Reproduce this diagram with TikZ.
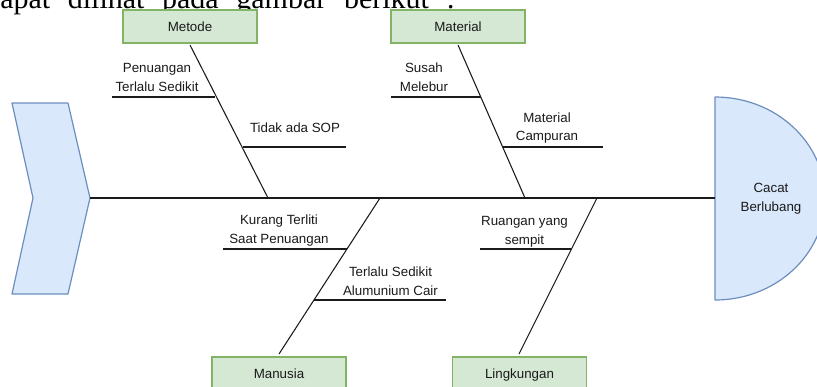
\documentclass[tikz,border=0pt]{standalone}
\usepackage{fontspec}
\setmainfont{Liberation Sans}
\newfontfamily\bodyserif{Liberation Serif}
\definecolor{catfill}{HTML}{D5E8D4}
\definecolor{catline}{HTML}{82B366}
\definecolor{headfill}{HTML}{DAE8FC}
\definecolor{headline}{HTML}{6C8EBF}
\definecolor{ink}{HTML}{1A1A1A}
\begin{document}
\begin{tikzpicture}[x=0.75pt,y=-0.75pt,
  cat/.style={draw=catline, fill=catfill, line width=0.9pt, minimum width=100.5pt,
    minimum height=24.75pt, inner sep=0pt, text=ink, text height=7.2pt, text depth=0pt,
    font=\fontsize{10}{14}\selectfont},
  lbl/.style={align=center, inner sep=0pt, text=ink, font=\fontsize{10}{14}\selectfont},
  bone/.style={line width=0.8pt, draw=ink},
  twig/.style={line width=0.8pt, draw=ink},
  headshape/.style={draw=headline, fill=headfill, line width=0.9pt, line join=round},
]
\clip (0,0) rectangle (817,386);
\useasboundingbox (0,0) rectangle (817,386);

% intro text (cut off at top, as in the reference)
\node[anchor=base west, inner sep=0pt, font=\bodyserif\fontsize{22.5}{27}\selectfont] (intro) at (0,8)
  {\makebox[341pt][s]{apat dilihat pada gambar berikut :}};

% tail chevron
\draw[headshape] (12,103) -- (68,103) -- (90,198) -- (68,294) -- (12,294) -- (33,198) -- cycle;
\coordinate (tail) at (90,198);

% head
\draw[headshape] (715,300) -- (715,97)
  .. controls (775.75,97) and (825,142.44) .. (825,198.5)
  .. controls (825,254.56) and (775.75,300) .. (715,300) -- cycle;
\coordinate (headleft) at (715,198);
\node[lbl] (effect) at (771,199) {Cacat\\Berlubang};

% spine
\draw[bone] (tail) -- (headleft);

% categories
\node[cat] (metode) at (190,26.5) {Metode};
\node[cat] (material) at (458,26.5) {Material};
\node[cat] (manusia) at (279,373.5) {Manusia};
\node[cat] (lingkungan) at (519.5,373.5) {Lingkungan};

% bone ends
\coordinate (metodeTop) at (190,45);
\coordinate (metodeJ) at (268,198);
\coordinate (materialTop) at (458,45);
\coordinate (materialJ) at (525,198);
\coordinate (manusiaJ) at (380,198);
\coordinate (manusiaBot) at (279,354);
\coordinate (lingkJ) at (597,198);
\coordinate (lingkBot) at (519,354);

\draw[bone] (metodeTop) -- (metodeJ);
\draw[bone] (materialTop) -- (materialJ);
\draw[bone] (manusiaJ) -- (manusiaBot);
\draw[bone] (lingkJ) -- (lingkBot);

% twigs
\coordinate (m1a) at (112,97);  \coordinate (m1b) at (215,97);
\coordinate (m2a) at (243,147); \coordinate (m2b) at (346,147);
\coordinate (t1a) at (391,97);  \coordinate (t1b) at (481,97);
\coordinate (t2a) at (503,147); \coordinate (t2b) at (603,147);
\coordinate (u1a) at (223,249); \coordinate (u1b) at (347,249);
\coordinate (u2a) at (314,300); \coordinate (u2b) at (446,300);
\coordinate (l1a) at (480,249); \coordinate (l1b) at (571,249);

\draw[twig] (m1a) -- (m1b);
\draw[twig] (m2a) -- (m2b);
\draw[twig] (t1a) -- (t1b);
\draw[twig] (t2a) -- (t2b);
\draw[twig] (u1a) -- (u1b);
\draw[twig] (u2a) -- (u2b);
\draw[twig] (l1a) -- (l1b);

% labels
\node[lbl] (c1) at (157,77.5) {Penuangan\\Terlalu Sedikit};
\node[lbl] (c2) at (295,128) {Tidak ada SOP};
\node[lbl] (c3) at (424,77.5) {Susah\\Melebur};
\node[lbl] (c4) at (547,128) {Material\\Campuran};
\node[lbl] (c5) at (279,230.5) {Kurang Terliti\\Saat Penuangan};
\node[lbl] (c6) at (390.5,281) {Terlalu Sedikit\\Alumunium Cair};
\node[lbl] (c7) at (524.5,231.5) {Ruangan yang\\sempit};
\end{tikzpicture}
\end{document}
